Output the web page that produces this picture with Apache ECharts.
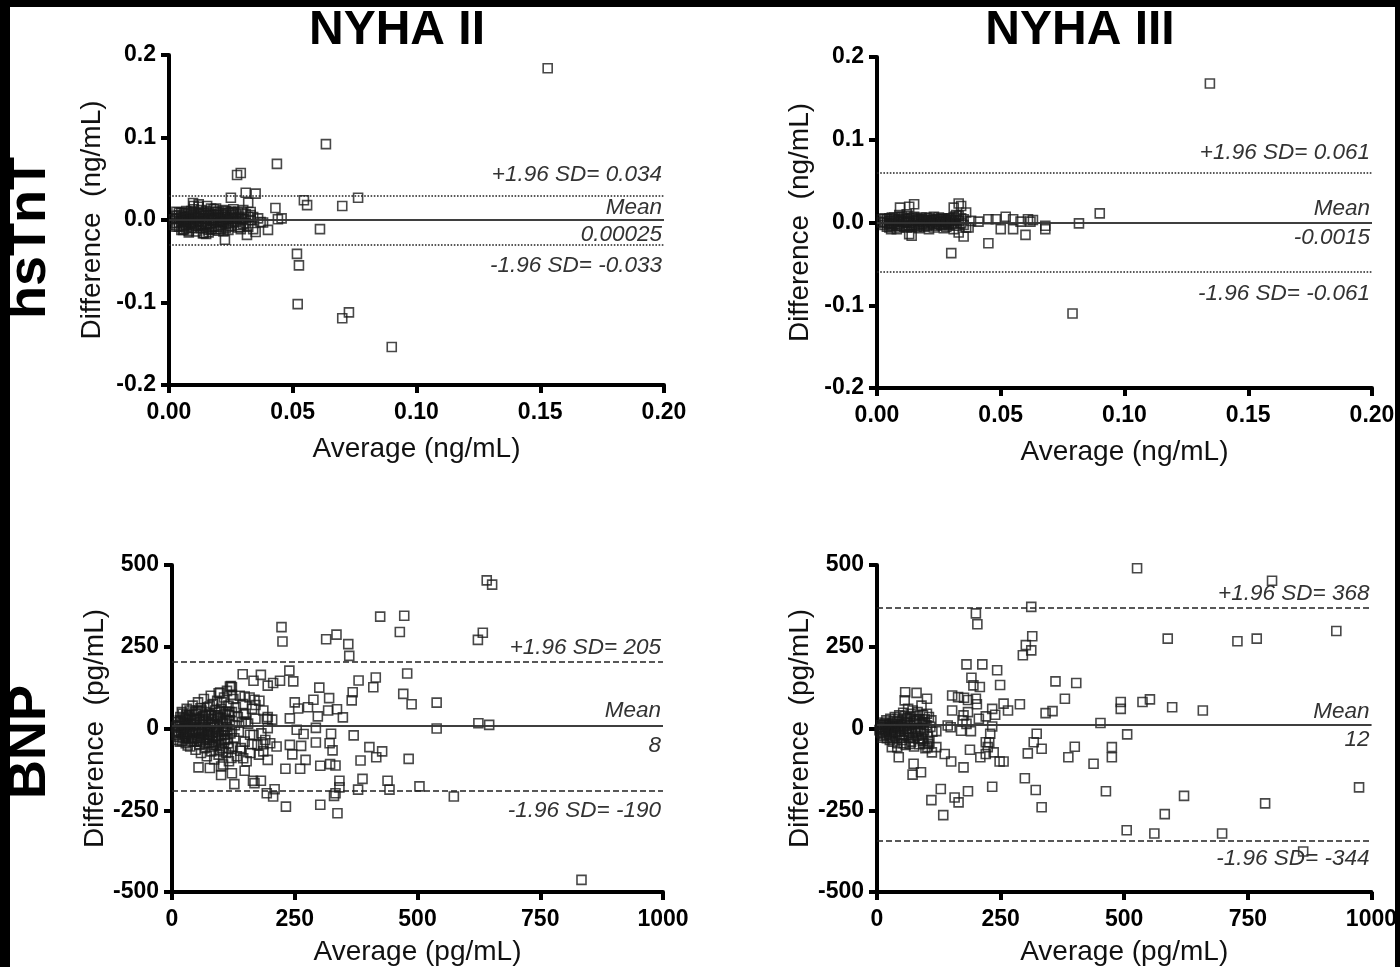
<!DOCTYPE html>
<html>
<head>
<meta charset="utf-8">
<script src="https://cdn.jsdelivr.net/npm/echarts@6/dist/echarts.min.js"></script>
<style>
html,body{margin:0;padding:0;background:#fff;}
#chart{width:1400px;height:967px;}
</style>
</head>
<body>
<div id="chart"></div>
<script>
// ---------- DATA ----------
const colTitles = ['NYHA II', 'NYHA III'];
const rowTitles = ['hsTnT', 'BNP'];
const ngTicksX = [0, 0.05, 0.10, 0.15, 0.20];
const ngTicksY = [-0.2, -0.1, 0.0, 0.1, 0.2];
const pgTicksX = [0, 250, 500, 750, 1000];
const pgTicksY = [-500, -250, 0, 250, 500];

// hsTnT, NYHA II  [average, difference] (ng/mL)
const tntNyha2 = [
 [0.153,0.184],[0.0634,0.092],[0.0436,0.068],[0.0275,0.0545],[0.029,0.057],
 [0.0517,-0.041],[0.0525,-0.055],[0.052,-0.102],[0.070,-0.119],[0.0727,-0.112],[0.090,-0.154],
 [0.0545,0.024],[0.0558,0.018],[0.070,0.017],[0.0764,0.027],[0.061,-0.011],
 [0.044,0.001],[0.0455,0.002],[0.043,0.0145],[0.031,0.033],[0.035,0.032],[0.025,0.027],[0.032,0.021],
 [0.040,-0.012],[0.0226,-0.024],[0.0315,-0.018],[0.035,-0.0145],[0.0255,0.0097],[0.0295,0.0085],
 [0.033,0.0097],[0.034,0.0036],[0.037,-0.0024],[0.0287,-0.0085],[0.0137,-0.016],[0.0057,-0.012],
 [0.0097,0.0206],[0.0154,0.017],
 [0.002,0.001],[0.003,-0.004],[0.003,0.005],[0.004,-0.008],[0.004,0.002],[0.005,0.009],[0.005,-0.002],
 [0.006,-0.011],[0.006,0.004],[0.007,0.011],[0.007,-0.006],[0.008,0.001],[0.008,-0.013],[0.009,0.007],
 [0.009,-0.004],[0.010,0.013],[0.010,-0.009],[0.011,0.003],[0.011,-0.014],[0.012,0.016],[0.012,-0.001],
 [0.013,0.008],[0.013,-0.010],[0.014,0.002],[0.014,-0.016],[0.015,0.011],[0.015,-0.005],[0.016,0.005],
 [0.016,-0.012],[0.017,0.000],[0.017,0.014],[0.018,-0.008],[0.018,0.006],[0.019,-0.003],[0.019,0.010],
 [0.020,-0.013],[0.020,0.002],[0.021,0.008],[0.021,-0.006],[0.022,0.012],[0.022,-0.002],[0.023,0.004],
 [0.023,-0.010],[0.024,0.001],[0.024,0.009],[0.025,-0.007],[0.026,0.003],[0.026,-0.003],[0.027,0.007],
 [0.028,-0.009],[0.029,0.002],[0.030,0.012],[0.031,-0.004],[0.033,0.006],[0.034,-0.011],[0.036,0.002],
 [0.038,-0.003],[0.004,0.006],[0.006,-0.007],[0.007,0.003],[0.008,0.009],[0.009,-0.010],[0.010,0.000],
 [0.011,0.009],[0.012,-0.007],[0.013,0.012],[0.014,-0.003],[0.015,0.002],[0.016,-0.015],[0.017,0.007],
 [0.018,0.013],[0.019,-0.011],[0.020,0.006],[0.021,-0.001],[0.022,-0.014],[0.023,0.011],[0.024,-0.004],
 [0.025,0.006],[0.005,-0.012],[0.003,0.010],[0.012,0.019],[0.010,0.017],[0.008,-0.015],[0.015,-0.017],
 [0.026,0.013],
 [0.002,-0.006],[0.003,0.002],[0.004,-0.003],[0.005,0.004],[0.006,0.000],[0.007,-0.009],[0.008,0.005],
 [0.009,0.002],[0.010,-0.005],[0.011,-0.002],[0.012,0.007],[0.013,-0.006],[0.014,0.009],[0.015,-0.010],
 [0.016,0.001],[0.017,-0.004],[0.018,0.002],[0.019,0.006],[0.020,-0.008],[0.021,0.003],[0.022,0.006],
 [0.023,-0.005],[0.024,-0.008],[0.025,0.002],[0.026,0.009],[0.027,-0.002],[0.028,0.004],[0.029,-0.006],
 [0.030,0.001],[0.031,0.007],[0.032,-0.008],[0.033,0.000],[0.003,-0.008],[0.004,0.009],[0.005,0.001],
 [0.006,0.008],[0.007,-0.001],[0.008,-0.005],[0.009,0.011],[0.010,0.004],[0.011,-0.007],[0.012,0.003],
 [0.013,-0.002],[0.014,0.005],[0.015,-0.008],[0.016,0.009],[0.017,-0.011],[0.018,-0.001],[0.019,0.014],
 [0.020,0.010],[0.021,-0.011],[0.022,0.000],[0.023,0.008],[0.024,-0.012],[0.025,0.010],[0.027,0.002],
 [0.028,0.010],[0.029,-0.011],[0.030,-0.005],[0.032,0.004]
];
// hsTnT, NYHA III
const tntNyha3 = [
 [0.1345,0.168],[0.079,-0.110],[0.090,0.011],[0.0816,-0.001],[0.068,-0.004],[0.068,-0.008],
 [0.060,-0.015],[0.061,0.004],[0.062,0.001],[0.055,-0.008],[0.055,0.004],[0.052,0.007],[0.050,-0.008],
 [0.048,0.004],[0.045,0.004],[0.045,-0.025],[0.041,0.001],[0.038,0.002],[0.030,-0.037],[0.033,0.023],
 [0.031,0.018],[0.035,-0.017],[0.033,-0.012],[0.037,-0.006],[0.036,0.012],[0.015,0.022],[0.013,0.019],
 [0.0093,0.018],[0.013,-0.014],[0.0057,-0.008],[0.014,-0.016],[0.034,0.020],[0.032,0.009],[0.058,0.001],
 [0.063,0.003],
 [0.002,0.000],[0.003,-0.003],[0.004,0.004],[0.005,-0.006],[0.005,0.002],[0.006,0.006],[0.007,-0.002],
 [0.008,0.003],[0.008,-0.008],[0.009,0.001],[0.010,-0.004],[0.010,0.007],[0.011,0.002],[0.012,-0.006],
 [0.012,0.004],[0.013,0.000],[0.014,0.006],[0.014,-0.003],[0.015,0.002],[0.016,-0.005],[0.016,0.005],
 [0.017,0.001],[0.018,-0.002],[0.018,0.006],[0.019,0.003],[0.020,-0.004],[0.020,0.002],[0.021,0.005],
 [0.022,-0.001],[0.022,0.003],[0.023,-0.006],[0.024,0.004],[0.024,0.000],[0.025,0.006],[0.026,-0.003],
 [0.026,0.002],[0.027,0.004],[0.028,-0.005],[0.028,0.001],[0.029,0.005],[0.030,-0.002],[0.030,0.003],
 [0.031,0.006],[0.032,-0.004],[0.033,0.002],[0.033,0.008],[0.034,-0.001],[0.035,0.004],[0.036,-0.006],
 [0.004,-0.001],[0.006,-0.004],[0.007,0.004],[0.009,-0.006],[0.011,0.005],[0.013,-0.004],[0.015,0.007],
 [0.017,-0.007],[0.019,-0.001],[0.021,-0.008],[0.023,0.007],[0.025,-0.002],[0.027,-0.007],[0.029,-0.003],
 [0.031,-0.008],[0.009,0.009],[0.012,0.010],[0.003,0.005],
 [0.002,0.004],[0.003,0.001],[0.004,-0.005],[0.005,0.005],[0.006,-0.001],[0.007,0.006],[0.008,-0.004],
 [0.009,0.004],[0.010,0.002],[0.011,-0.005],[0.012,0.000],[0.013,0.005],[0.014,-0.006],[0.015,-0.001],
 [0.016,0.003],[0.017,-0.003],[0.018,0.004],[0.019,-0.005],[0.020,0.006],[0.021,-0.003],[0.022,0.001],
 [0.023,0.003],[0.024,-0.004],[0.025,0.001],[0.026,0.005],[0.027,-0.002],[0.028,0.003],[0.029,-0.001],
 [0.030,0.005],[0.031,0.000],[0.032,0.003],[0.005,-0.002],[0.007,0.001],[0.009,-0.002],[0.011,0.000],
 [0.013,0.002],[0.015,-0.004],[0.017,0.004],[0.019,0.001],[0.021,0.002],[0.023,-0.002],[0.025,0.004],
 [0.027,0.000],[0.029,0.002],[0.031,0.003],[0.034,0.005],[0.035,-0.003]
];
// BNP, NYHA II  (pg/mL)
const bnpNyha2 = [
 [641,453],[652,440],[424,342],[473,345],[464,295],[223,310],[225,266],[314,273],[335,287],[359,258],
 [361,222],[633,293],[623,271],[144,166],[181,164],[166,146],[239,177],[247,144],[220,146],[206,139],
 [195,131],[300,125],[380,147],[415,156],[410,126],[479,168],[471,106],[488,74],[539,79],[539,0],
 [624,16],[646,11],[122,126],[148,98],[250,80],[257,61],[277,65],[288,88],[297,37],[320,93],[318,55],
 [336,59],[348,34],[366,86],[368,111],[240,31],[293,2],[254,-4],[268,-17],[324,-16],[370,-21],[293,-43],
 [240,-50],[263,-53],[321,-45],[327,-67],[245,-79],[272,-96],[261,-123],[231,-123],[302,-114],[322,-109],
 [333,-113],[384,-98],[402,-57],[416,-88],[428,-70],[482,-93],[388,-154],[439,-160],[443,-187],[504,-177],
 [379,-187],[574,-208],[341,-160],[341,-180],[333,-198],[330,-206],[337,-259],[302,-233],[232,-239],
 [193,-198],[206,-208],[209,-186],[181,-160],[168,-167],[165,-160],[127,-170],[834,-463],[148,-129],
 [145,-91],[139,-68],[186,-48],[163,-48],[213,-55],[186,-70],[177,-80],[195,-96],[159,-19],[193,30],
 [204,27],[170,72],[168,88],[146,43],[150,21],[122,-9],[195,1],[122,-137],[100,-142],[100,-116],[77,-121],
 [54,-119],[122,103],[95,108],[118,128],
 [8,5],[10,-12],[12,20],[14,-25],[15,8],[17,35],[18,-5],[20,-38],[21,15],[22,45],[24,-18],[25,2],[27,28],
 [28,-45],[30,60],[31,-10],[33,12],[34,-30],[35,40],[37,-55],[38,5],[40,25],[41,-20],[42,70],[44,-40],
 [45,10],[46,50],[48,-65],[49,-8],[50,32],[52,-28],[53,80],[55,0],[56,-50],[57,20],[59,-75],[60,55],
 [61,-15],[63,38],[64,-35],[65,90],[67,5],[68,-60],[70,25],[71,-85],[72,65],[74,-20],[75,45],[76,-45],
 [78,10],[79,100],[80,-70],[82,30],[83,-30],[84,75],[86,-95],[87,15],[88,55],[90,-50],[91,-10],[92,85],
 [94,40],[95,-80],[96,0],[98,110],[99,-35],[100,60],[102,-60],[103,20],[104,-110],[106,95],[107,-20],
 [108,45],[110,-75],[111,5],[112,115],[114,-45],[115,70],[116,-100],[118,25],[119,-15],[120,130],[122,50],
 [124,-55],[125,90],[127,-30],[128,10],[130,65],[132,-85],[134,35],[136,-10],[138,100],[140,-60],[142,20],
 [145,75],[148,-40],[150,45],[152,-100],[155,15],[158,95],[160,-75],[163,60],[166,-20],[170,30],[174,-50],
 [178,85],[182,-15],[186,55],[190,-35],[195,35],[200,-45],[18,22],[23,-30],[29,40],[36,-15],[43,-8],
 [47,28],[51,-40],[58,62],[62,-5],[66,-28],[69,42],[73,-12],[77,68],[81,-55],[85,5],[89,-25],[93,35],
 [97,-65],[101,80],[105,-5],[109,30],[113,-30],[117,50],[121,-90],
 [9,-20],[11,10],[13,-8],[16,25],[19,-15],[22,-3],[26,18],[29,-22],[32,35],[35,-8],[39,15],[42,-32],
 [46,-15],[49,45],[53,-5],[56,30],[59,-40],[62,12],[65,-18],[68,50],[71,-5],[74,30],[77,-35],[80,20],
 [83,-12],[86,40],[89,-40],[92,10],[95,-22],[98,32],[101,-45],[104,15],[107,-35],[110,52],[113,-5],
 [116,40],[12,-35],[16,-40],[20,50],[24,32],[28,-28],[32,-52],[36,55],[40,-40],[44,28],[48,12],[52,55],
 [56,-30],[60,-10],[64,20],[68,-45],[72,-25],[76,-10],[80,40],[84,-50],[88,-5],[92,-30],[96,50],
 [100,-20],[104,-70],[108,-10],[112,25],[116,-60]
];
// BNP, NYHA III
const bnpNyha3 = [
 [526,490],[799,452],[929,298],[588,275],[729,267],[768,275],[200,352],[203,319],[312,372],[314,282],
 [301,255],[312,239],[295,224],[181,196],[213,196],[243,178],[191,155],[195,132],[208,127],[249,133],
 [361,144],[403,139],[380,91],[256,76],[289,74],[265,55],[341,47],[355,53],[233,60],[239,42],[493,81],
 [493,60],[537,81],[552,89],[597,65],[659,55],[452,17],[506,-18],[475,-57],[475,-88],[438,-108],[400,-56],
 [387,-88],[323,-16],[317,-42],[333,-62],[305,-76],[299,-152],[321,-188],[333,-241],[463,-192],[233,-178],
 [184,-192],[188,-65],[209,-88],[220,-78],[236,-73],[248,-101],[256,-101],[220,-42],[224,-57],[229,-16],
 [233,6],[227,-42],[175,-119],[150,-101],[137,-78],[120,-57],[104,-47],[111,-73],[129,-185],[110,-219],
 [157,-211],[165,-226],[134,-265],[621,-206],[582,-262],[785,-229],[975,-180],[505,-311],[561,-321],
 [698,-321],[862,-376],[149,4],[143,9],[120,-8],[170,-7],[173,25],[181,14],[152,55],[152,101],[164,96],
 [176,94],[184,87],[200,91],[202,74],[184,50],[175,40],[206,30],[220,37],[190,-8],
 [57,111],[80,109],[101,91],[56,86],[30,-57],[41,-57],[44,-88],[74,-108],[72,-141],[89,-134],[93,-37],
 [102,-57],[66,-47],[17,14],
 [5,-5],[8,10],[10,-15],[12,5],[14,-22],[15,18],[17,-8],[19,25],[20,-30],[22,0],[24,12],[25,-18],[27,30],
 [28,-5],[30,-25],[31,15],[33,-40],[35,5],[36,35],[38,-12],[40,20],[41,-45],[43,8],[45,40],[46,-20],
 [48,-3],[50,25],[51,-35],[53,48],[55,-10],[56,15],[58,-50],[60,30],[61,-2],[63,60],[64,-28],[66,10],
 [68,45],[69,-40],[71,-15],[72,55],[74,22],[75,-55],[77,0],[78,38],[80,-22],[82,50],[83,-8],[85,28],
 [86,-48],[88,15],[90,70],[91,-30],[93,40],[95,-5],[96,20],[98,-60],[100,10],[101,45],[103,-25],
 [105,35],[106,-40],[108,5],[110,25],[112,-10],
 [7,-12],[9,3],[11,-28],[13,12],[16,-2],[18,-20],[21,8],[23,-10],[26,-35],[29,5],[32,-12],[34,22],
 [37,-22],[39,2],[42,30],[44,-8],[47,12],[49,-28],[52,5],[54,-45],[57,38],[59,-20],[62,18],[65,-8],
 [67,35],[70,0],[73,-30],[76,15],[79,-10],[81,28],[84,-32],[87,2],[89,-15],[92,18],[94,-45],[97,28]
];

// Bland-Altman lines: [+1.96 SD, mean, -1.96 SD]
const tntNyha2Lines = [0.034, 0.00025, -0.033];
const tntNyha3Lines = [0.061, -0.0015, -0.061];
const bnpNyha2Lines = [205, 8, -190];
const bnpNyha3Lines = [368, 12, -344];
const tntNyha2Labels = ['+1.96 SD= 0.034', 'Mean', '0.00025', '-1.96 SD= -0.033'];
const tntNyha3Labels = ['+1.96 SD= 0.061', 'Mean', '-0.0015', '-1.96 SD= -0.061'];
const bnpNyha2Labels = ['+1.96 SD= 205', 'Mean', '8', '-1.96 SD= -190'];
const bnpNyha3Labels = ['+1.96 SD= 368', 'Mean', '12', '-1.96 SD= -344'];

// ---------- CHART ----------
const FONT = '"Liberation Sans", Arial, Helvetica, sans-serif';
const chart = echarts.init(document.getElementById('chart'), null, {renderer: 'canvas'});

const grids = [
  {left: 169, top: 55, width: 495, height: 330},
  {left: 877, top: 57, width: 495, height: 331},
  {left: 172, top: 565, width: 491, height: 327},
  {left: 877, top: 565, width: 495, height: 327}
];
const panels = [
  {data: tntNyha2, lines: tntNyha2Lines, labels: tntNyha2Labels, ng: true, dash: 'dotted', dist: [9, 1, 3, 9], xGap: 50},
  {data: tntNyha3, lines: tntNyha3Lines, labels: tntNyha3Labels, ng: true, dash: 'dotted', dist: [9, 2, 4, 10], xGap: 50},
  {data: bnpNyha2, lines: bnpNyha2Lines, labels: bnpNyha2Labels, ng: false, dash: [6, 3], dist: [2, 4, 8.5, 8.5], xGap: 46},
  {data: bnpNyha3, lines: bnpNyha3Lines, labels: bnpNyha3Labels, ng: false, dash: [6, 3], dist: [3, 1, 3.5, 6.5], xGap: 46}
];

const axisCommon = {
  axisLine: {show: true, onZero: false, lineStyle: {color: '#000', width: 4}},
  axisTick: {show: true, length: 8, lineStyle: {color: '#000', width: 4}},
  splitLine: {show: false},
  nameTextStyle: {fontFamily: FONT, fontSize: 28, color: '#111'}
};

const xAxes = [], yAxes = [], series = [];
panels.forEach((p, i) => {
  const tx = p.ng ? ngTicksX : pgTicksX;
  const ty = p.ng ? ngTicksY : pgTicksY;
  xAxes.push(Object.assign({}, axisCommon, {
    type: 'value', gridIndex: i, position: 'bottom',
    min: tx[0], max: tx[tx.length - 1], interval: tx[1] - tx[0],
    name: p.ng ? 'Average (ng/mL)' : 'Average (pg/mL)',
    nameLocation: 'middle', nameGap: p.xGap,
    axisLabel: {fontFamily: FONT, fontSize: 23, fontWeight: 'bold', color: '#000', margin: 16,
      formatter: v => p.ng ? v.toFixed(2) : String(Math.round(v))}
  }));
  yAxes.push(Object.assign({}, axisCommon, {
    type: 'value', gridIndex: i, position: 'left',
    min: ty[0], max: ty[ty.length - 1], interval: ty[1] - ty[0],
    name: p.ng ? 'Difference  (ng/mL)' : 'Difference  (pg/mL)',
    nameLocation: 'middle', nameGap: 63, nameRotate: 90,
    axisLabel: {fontFamily: FONT, fontSize: 23, fontWeight: 'bold', color: '#000', margin: 13,
      formatter: v => p.ng ? (Math.abs(v) < 1e-9 ? '0.0' : v.toFixed(1)) : String(Math.round(v))}
  }));
  const lbl = (text, pos, d) => ({
    show: true, formatter: text, position: pos, distance: [2, d],
    fontFamily: FONT, fontSize: 22.5, fontStyle: 'italic', color: '#333', lineHeight: 23
  });
  series.push({
    type: 'scatter', xAxisIndex: i, yAxisIndex: i, data: p.data,
    symbol: 'rect', symbolSize: 9,
    itemStyle: {color: 'rgba(0,0,0,0)', borderColor: '#1a1a1a', borderWidth: 1.6},
    silent: true, animation: false,
    markLine: {
      silent: true, symbol: 'none', animation: false,
      data: [
        {yAxis: p.lines[0], lineStyle: {type: p.dash, color: '#222', width: 1.6}, label: lbl(p.labels[0], 'insideEndTop', p.dist[0])},
        {yAxis: p.lines[1], lineStyle: {type: 'solid', color: '#333', width: 1.6}, label: lbl(p.labels[1], 'insideEndTop', p.dist[1])},
        {yAxis: p.lines[1], lineStyle: {type: 'solid', color: '#333', width: 1.6}, label: lbl(p.labels[2], 'insideEndBottom', p.dist[2])},
        {yAxis: p.lines[2], lineStyle: {type: p.dash, color: '#222', width: 1.6}, label: lbl(p.labels[3], 'insideEndBottom', p.dist[3])}
      ]
    }
  });
});

const textEl = (txt, x, y, size, rot) => ({
  type: 'text', x: x, y: y, rotation: rot || 0, z: 50,
  style: {text: txt, fontFamily: FONT, fontSize: size, fontWeight: 'bold', fill: '#000',
    textAlign: 'center', textVerticalAlign: 'middle'}
});

chart.setOption({
  backgroundColor: '#fff',
  animation: false,
  grid: grids,
  xAxis: xAxes,
  yAxis: yAxes,
  series: series,
  graphic: [
    textEl(colTitles[0], 397, 31, 48),
    textEl(colTitles[1], 1080, 31, 48),
    textEl(rowTitles[0], 30, 238, 54, Math.PI / 2),
    textEl(rowTitles[1], 30, 742, 54, Math.PI / 2),
    {type: 'rect', z: 100, shape: {x: 0, y: 0, width: 1400, height: 7}, style: {fill: '#000'}},
    {type: 'rect', z: 100, shape: {x: 0, y: 0, width: 10, height: 967}, style: {fill: '#000'}},
    {type: 'rect', z: 100, shape: {x: 1395, y: 0, width: 5, height: 967}, style: {fill: '#000'}}
  ]
});
</script>
</body>
</html>
